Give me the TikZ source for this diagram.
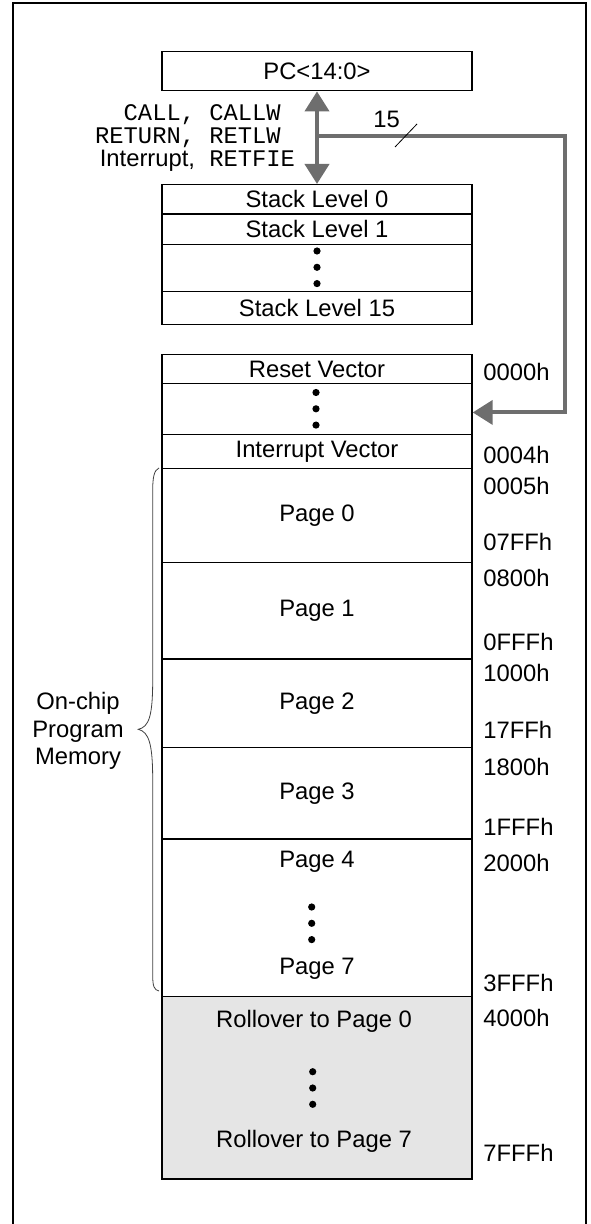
\documentclass[tikz,border=0pt]{standalone}
\usepackage{fontspec}
\setmainfont{Liberation Sans}
\setmonofont{Liberation Mono}
\usetikzlibrary{arrows.meta}

\tikzset{
	membox/.style={draw, line width=0.7pt, minimum width=155pt, inner sep=0pt, anchor=north},
	bus/.style={draw=black!57, line width=2pt},
	addr/.style={anchor=west, inner sep=0pt},
}

\begin{document}
\begin{tikzpicture}[x=0.5pt, y=-0.5pt, font=\fontsize{11.9pt}{14pt}\selectfont,
	>={Triangle[length=10pt, width=12pt]}]
	\useasboundingbox (0,0) rectangle (590,1224);
	\draw [line width=0.8pt] (13,1224) -- (13,3) -- (586,3) -- (586,1224);

	% program counter and stack
	\node at (317,50.7) [membox, minimum height=19.65pt] (pc) {PC<14:0>};
	\node at (317,184) [membox, minimum height=14.65pt] (s0) {Stack Level 0};
	\node at (317,213.3) [membox, minimum height=15.35pt] (s1) {Stack Level 1};
	\node at (317,244) [membox, minimum height=23.5pt] (sdots) {};
	\node at (317,291) [membox, minimum height=16.5pt] (s15) {Stack Level 15};

	% program memory
	\node at (317,354) [membox, minimum height=14.35pt] (reset) {Reset Vector};
	\node at (317,382.7) [membox, minimum height=25.65pt] (vdots) {};
	\node at (317,434) [membox, minimum height=16.85pt] (intv) {Interrupt Vector};
	\node at (317,467.7) [membox, minimum height=47pt] (p0) {Page 0};
	\node at (317,561.7) [membox, minimum height=48.3pt] (p1) {Page 1};
	\node at (317,658.3) [membox, minimum height=44.2pt] (p2) {Page 2};
	\node at (317,746.7) [membox, minimum height=45.8pt] (p3) {Page 3};
	\node at (317,838.3) [membox, minimum height=78.85pt] (p47) {};
	\node at (317,996) [membox, fill=black!10, minimum height=91.15pt] (roll) {};

	\node at (317,861.7) (p4) {Page 4};
	\node at (317,968.3) (p7) {Page 7};
	\node at (314,1021.7) (r0) {Rollover to Page 0};
	\node at (314,1141.7) (r7) {Rollover to Page 7};

	\foreach \x/\y in {317/267.3, 316/408.8, 311.7/923.3, 312.7/1088}
		\foreach \d in {-16.3,0,16.3}
			\fill (\x,\y+\d) circle (1.8pt);

	% addresses
	\node at (483,371.7) [addr] (a0000) {0000h};
	\node at (483,455) [addr] (a0004) {0004h};
	\node at (483,485.7) [addr] (a0005) {0005h};
	\node at (483,541.7) [addr] (a07FF) {07FFh};
	\node at (483,578.3) [addr] (a0800) {0800h};
	\node at (483,641.7) [addr] (a0FFF) {0FFFh};
	\node at (483,673.3) [addr] (a1000) {1000h};
	\node at (483,730) [addr] (a17FF) {17FFh};
	\node at (483,766.7) [addr] (a1800) {1800h};
	\node at (483,827.3) [addr] (a1FFF) {1FFFh};
	\node at (483,863.3) [addr] (a2000) {2000h};
	\node at (483,983.3) [addr] (a3FFF) {3FFFh};
	\node at (483,1018.3) [addr] (a4000) {4000h};
	\node at (483,1153.3) [addr] (a7FFF) {7FFFh};

	% stack bus
	\coordinate (tap) at (317,136);
	\coordinate (bend) at (565,136);
	\draw [bus, <->] (pc) -- (s0);
	\draw [bus, ->] (tap) -- (bend) |- ([yshift=-1.7pt]vdots.east);
	\node at (386.7,119) (w15) {15};
	\draw [line width=0.4pt] (395,147) -- (417,124);

	\node at (295.4,139.2) [anchor=east, inner sep=0pt, font=\fontsize{11.9pt}{11.25pt}\selectfont] (ops)
		{\begin{tabular}{@{}r@{\hspace{7.1pt}}l@{}}
			\texttt{CALL,} & \texttt{CALLW}\\
			\texttt{RETURN,} & \texttt{RETLW}\\
			Interrupt, & \texttt{RETFIE}
		\end{tabular}};

	% on-chip brace
	\draw [black!75, line width=0.4pt] (159,468) .. controls (154,470) and (152.7,478) .. (152.7,490)
		-- (152.7,680) .. controls (152.7,716) and (149,727) .. (138.3,729.3)
		.. controls (149,732) and (152.7,744) .. (152.7,780)
		-- (152.7,975) .. controls (152.7,986) and (154,990) .. (159,991);
	\node at (78,731) [align=center, font=\fontsize{11.9pt}{13.75pt}\selectfont] (onchip) {On-chip\\Program\\Memory};
\end{tikzpicture}
\end{document}
